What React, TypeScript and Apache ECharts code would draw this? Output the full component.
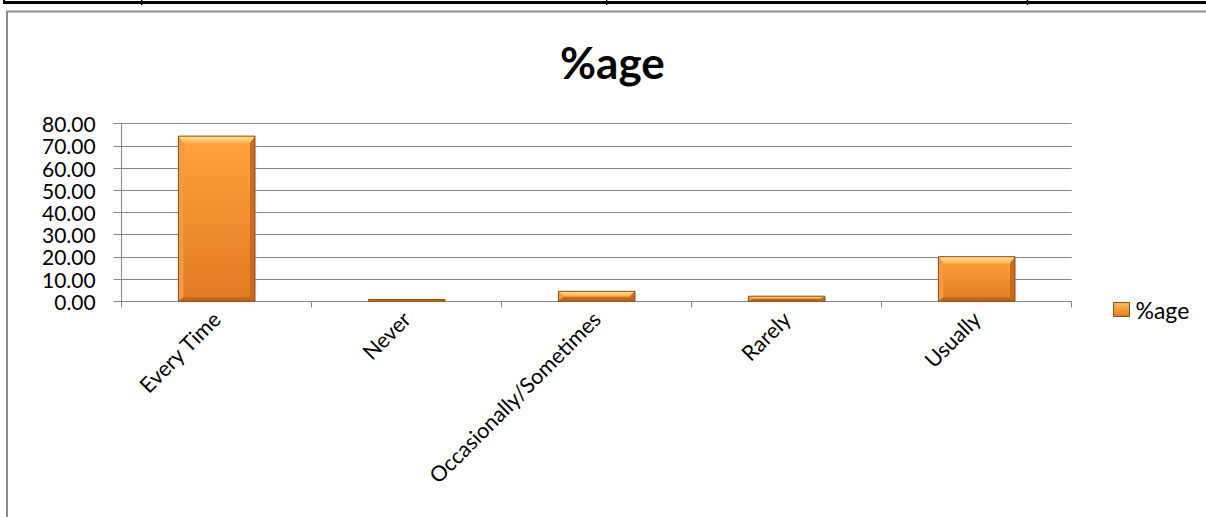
import React, { useEffect, useRef } from "react";
import * as echarts from "echarts";

const categories = ["Every Time", "Never", "Occasionally/Sometimes", "Rarely", "Usually"];
const percentValues = [74.4, 0.8, 4.5, 2.3, 20.1];
const seriesName = "%age";
const titleText = "%age";
const yMin = 0;
const yMax = 80;
const yInterval = 10;

const FONT = "Lato, 'Open Sans', sans-serif";

function renderBevelBar(params: any, api: any) {
  const cat = api.value(0);
  const val = api.value(1);
  const top = api.coord([cat, val]);
  const base = api.coord([cat, 0]);
  const bw = api.size([1, 0])[0] * 0.403;
  const x0 = top[0] - bw / 2;
  const x1 = top[0] + bw / 2;
  const y0 = top[1];
  const y1 = base[1];
  const h = Math.max(y1 - y0, 0.5);
  const bt = Math.min(7, h / 2);
  const bb = Math.min(4, h / 2);
  const bs = Math.min(5, bw / 2);
  const children: any[] = [
    {
      type: "rect",
      shape: { x: x0, y: y0, width: bw, height: h },
      style: {
        fill: new echarts.graphic.LinearGradient(0, 0, 0, 1, [
          { offset: 0, color: "#FFA23C" },
          { offset: 1, color: "#E27A24" },
        ]),
      },
    },
    {
      type: "polygon",
      shape: { points: [[x0, y0], [x1, y0], [x1 - bs, y0 + bt], [x0 + bs, y0 + bt]] },
      style: {
        fill: new echarts.graphic.LinearGradient(0, 0, 0, 1, [
          { offset: 0, color: "#FFE29A" },
          { offset: 1, color: "#FDB04E" },
        ]),
      },
    },
    {
      type: "polygon",
      shape: { points: [[x0, y0], [x0 + bs, y0 + bt], [x0 + bs, y1 - bb], [x0, y1]] },
      style: { fill: "#F49A40" },
    },
    {
      type: "polygon",
      shape: { points: [[x1, y0], [x1 - bs, y0 + bt], [x1 - bs, y1 - bb], [x1, y1]] },
      style: { fill: "#C96A20" },
    },
    {
      type: "polygon",
      shape: { points: [[x0, y1], [x0 + bs, y1 - bb], [x1 - bs, y1 - bb], [x1, y1]] },
      style: { fill: "#C0661E" },
    },
    {
      type: "rect",
      shape: { x: x0, y: y0, width: bw, height: h },
      style: { fill: "none", stroke: "#8E4B14", lineWidth: 1 },
    },
  ];
  return { type: "group", children };
}

export default function App() {
  const ref = useRef<HTMLDivElement>(null);

  useEffect(() => {
    if (!ref.current) return;
    const chart = echarts.init(ref.current, null, { renderer: "svg" });
    const option: any = {
      animation: false,
      backgroundColor: "#ffffff",
      title: {
        text: titleText,
        left: 560,
        top: 40,
        padding: 0,
        textStyle: { fontFamily: FONT, fontSize: 44, fontWeight: "bold", color: "#000000" },
      },
      legend: {
        left: 1113,
        top: 298,
        padding: 0,
        itemWidth: 16,
        itemHeight: 14,
        itemGap: 6,
        data: [
          {
            name: seriesName,
            icon: "rect",
            itemStyle: {
              color: new echarts.graphic.LinearGradient(0, 0, 0, 1, [
                { offset: 0, color: "#FFC060" },
                { offset: 1, color: "#E27A24" },
              ]),
              borderColor: "#8E4B14",
              borderWidth: 1,
            },
          },
        ],
        textStyle: { fontFamily: FONT, fontSize: 23, color: "#000000", padding: [0, 0, 0, 1] },
      },
      grid: {
        left: 121.7,
        top: 123.7,
        right: 1206 - 1071.7,
        bottom: 517 - 301.3,
        containLabel: false,
      },
      xAxis: {
        type: "category",
        data: categories,
        boundaryGap: true,
        axisLine: { show: true, lineStyle: { color: "#868686", width: 1 } },
        axisTick: { show: true, alignWithLabel: false, length: 6, lineStyle: { color: "#868686" } },
        axisLabel: {
          rotate: 45,
          margin: 14,
          interval: 0,
          fontFamily: FONT,
          fontSize: 21.5,
          color: "#000000",
        },
        splitLine: { show: false },
      },
      yAxis: {
        type: "value",
        min: yMin,
        max: yMax,
        interval: yInterval,
        axisLine: { show: true, lineStyle: { color: "#868686", width: 1 } },
        axisTick: { show: true, length: 8, lineStyle: { color: "#868686" } },
        axisLabel: {
          margin: 26,
          color: "#000000",
          fontFamily: FONT,
          fontSize: 21,
          lineHeight: 17,
          showMinLabel: true,
          showMaxLabel: true,
          hideOverlap: false,
          textMargin: 0,
          minMargin: 0,
          formatter: (v: number) => v.toFixed(2),
        },
        splitLine: { show: true, lineStyle: { color: "#868686", width: 1 } },
      },
      series: [
        {
          name: seriesName,
          type: "custom",
          renderItem: renderBevelBar,
          itemStyle: { color: "#F79646" },
          encode: { x: 0, y: 1 },
          data: percentValues.map((v, i) => [i, v]),
        },
      ],
      graphic: [
        {
          type: "rect",
          silent: true,
          shape: { x: 7, y: 11.5, width: 1300, height: 700 },
          style: { fill: "none", stroke: "#8C8C8C", lineWidth: 2 },
        },
        {
          type: "line",
          silent: true,
          shape: { x1: 3, y1: 2.5, x2: 1206, y2: 2.5 },
          style: { stroke: "#000000", lineWidth: 3 },
        },
        {
          type: "line",
          silent: true,
          shape: { x1: 4, y1: 0, x2: 4, y2: 4 },
          style: { stroke: "#000000", lineWidth: 2 },
        },
        {
          type: "line",
          silent: true,
          shape: { x1: 141.7, y1: 0, x2: 141.7, y2: 5 },
          style: { stroke: "#000000", lineWidth: 1.5 },
        },
        {
          type: "line",
          silent: true,
          shape: { x1: 606.7, y1: 0, x2: 606.7, y2: 5 },
          style: { stroke: "#000000", lineWidth: 1.5 },
        },
        {
          type: "line",
          silent: true,
          shape: { x1: 1027.5, y1: 0, x2: 1027.5, y2: 5 },
          style: { stroke: "#000000", lineWidth: 1.5 },
        },
      ],
    };
    chart.setOption(option);
    return () => chart.dispose();
  }, []);

  return (
    <div
      ref={ref}
      style={{ position: "absolute", left: 0, top: 0, width: 1206, height: 517, background: "#fff" }}
    />
  );
}
